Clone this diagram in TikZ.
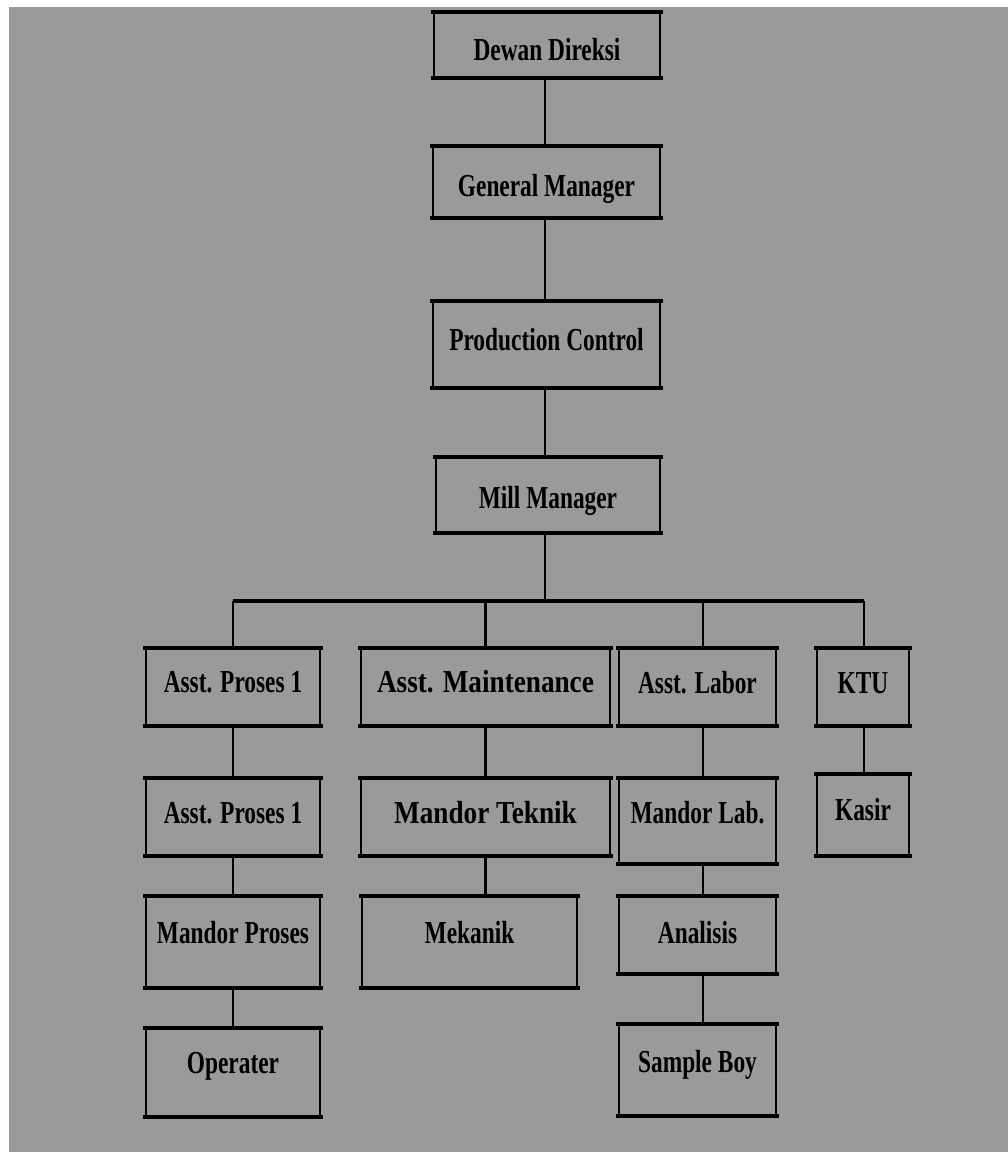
\documentclass[tikz,border=0pt]{standalone}
\usepackage{graphicx}
\usepackage{fontspec}
\setmainfont{Liberation Serif}
\newcommand\sx[1]{\scalebox{0.73}[1]{#1}}
\newcommand\sxw[1]{\scalebox{0.85}[1]{#1}}
\definecolor{bggray}{RGB}{154,154,154}
\begin{document}
\begin{tikzpicture}[x=1pt,y=-1pt,
  box/.style={draw=black, line width=2.6pt, fill=bggray, rectangle, inner sep=0pt,
    font=\fontsize{32}{36}\selectfont\bfseries, text=black,
    append after command={
      \pgfextra{\draw[line width=4pt, line cap=butt]
        ([xshift=-1.3pt]\tikzlastnode.north west) -- ([xshift=1.3pt]\tikzlastnode.north east)
        ([xshift=-1.3pt]\tikzlastnode.south west) -- ([xshift=1.3pt]\tikzlastnode.south east);}}},
  tdn/.style={text height=#1pt, text depth=0pt},
  tup/.style={text height=21pt, text depth=#1pt},
  conn/.style={draw=black, line width=2.4pt},
  bus/.style={draw=black, line width=3.5pt}]
\useasboundingbox (0,0) rectangle (1008,1152);
\fill[white] (0,0) rectangle (1008,1152);
\fill[bggray] (9,7) rectangle (1008,1152);
% top chain
\node[box, minimum width=226pt, minimum height=64pt, tdn=31] (dd) at (547,45) {\sx{Dewan Direksi}};
\node[box, minimum width=227pt, minimum height=70pt, tdn=29] (gm) at (546.5,182) {\sx{General Manager}};
\node[box, minimum width=227pt, minimum height=85pt, tup=9] (pc) at (546.5,344.5) {\sx{Production Control}};
\node[box, minimum width=224pt, minimum height=74pt, tdn=27] (mm) at (548,495) {\sx{Mill Manager}};
% second row
\node[box, minimum width=174pt, minimum height=76pt, tup=10] (ap1) at (233,687) {\sx{Asst. Proses 1}};
\node[box, minimum width=249pt, minimum height=76pt, tup=10] (amt) at (485.5,687) {\sxw{Asst. Maintenance}};
\node[box, minimum width=157pt, minimum height=76pt, tup=8] (al) at (697.5,687) {\sx{Asst. Labor}};
\node[box, minimum width=92pt, minimum height=76pt, tup=8] (ktu) at (863,687) {\sx{KTU}};
% third row
\node[box, minimum width=174pt, minimum height=76pt, tup=8] (ap2) at (233,817) {\sx{Asst. Proses 1}};
\node[box, minimum width=249pt, minimum height=76pt, tup=8] (mt) at (485.5,817) {\sxw{Mandor Teknik}};
\node[box, minimum width=157pt, minimum height=84pt, tup=16] (ml) at (697.5,821) {\sx{Mandor Lab.}};
\node[box, minimum width=92pt, minimum height=80pt, tup=10] (ks) at (863,815) {\sx{Kasir}};
% fourth row
\node[box, minimum width=174pt, minimum height=90pt, tup=18] (mp) at (233,942) {\sx{Mandor Proses}};
\node[box, minimum width=215pt, minimum height=90pt, tup=18] (mk) at (469.5,942) {\sx{Mekanik}};
\node[box, minimum width=157pt, minimum height=76pt, tup=4] (an) at (697.5,935) {\sx{Analisis}};
% fifth row
\node[box, minimum width=174pt, minimum height=87pt, tup=19] (op) at (233,1072.5) {\sx{Operater}};
\node[box, minimum width=157pt, minimum height=90pt, tup=16] (sb) at (697.5,1070) {\sx{Sample Boy}};
% connectors
\coordinate (busc) at (545,601);
\coordinate (busl) at (233,601);
\coordinate (busr) at (864,601);
\draw[conn] ([xshift=-2pt]dd.south) -- ([xshift=-2pt]dd.south |- gm.north);
\draw[conn] ([xshift=-1.5pt]gm.south) -- ([xshift=-1.5pt]gm.south |- pc.north);
\draw[conn] ([xshift=-1.5pt]pc.south) -- ([xshift=-1.5pt]pc.south |- mm.north);
\draw[conn] (mm.south -| busc) -- (busc);
\draw[bus] (busl) -- (busr);
\draw[conn] (busl) -- (ap1.north);
\draw[conn] (amt.north |- busc) -- (amt.north);
\draw[conn] ([xshift=5.5pt]al.north |- busc) -- ([xshift=5.5pt]al.north);
\draw[conn] (busr) -- (busr |- ktu.north);
\draw[conn] (ap1.south) -- (ap2.north);
\draw[conn] (ap2.south) -- (mp.north);
\draw[conn] (mp.south) -- (op.north);
\draw[conn] (amt.south) -- (mt.north);
\draw[conn] (mt.south) -- (mt.south |- mk.north);
\draw[conn] ([xshift=5.5pt]al.south) -- ([xshift=5.5pt]ml.north);
\draw[conn] ([xshift=5.5pt]ml.south) -- ([xshift=5.5pt]an.north);
\draw[conn] ([xshift=5.5pt]an.south) -- ([xshift=5.5pt]sb.north);
\draw[conn] ([xshift=1pt]ktu.south) -- ([xshift=1pt]ks.north);
\end{tikzpicture}
\end{document}
